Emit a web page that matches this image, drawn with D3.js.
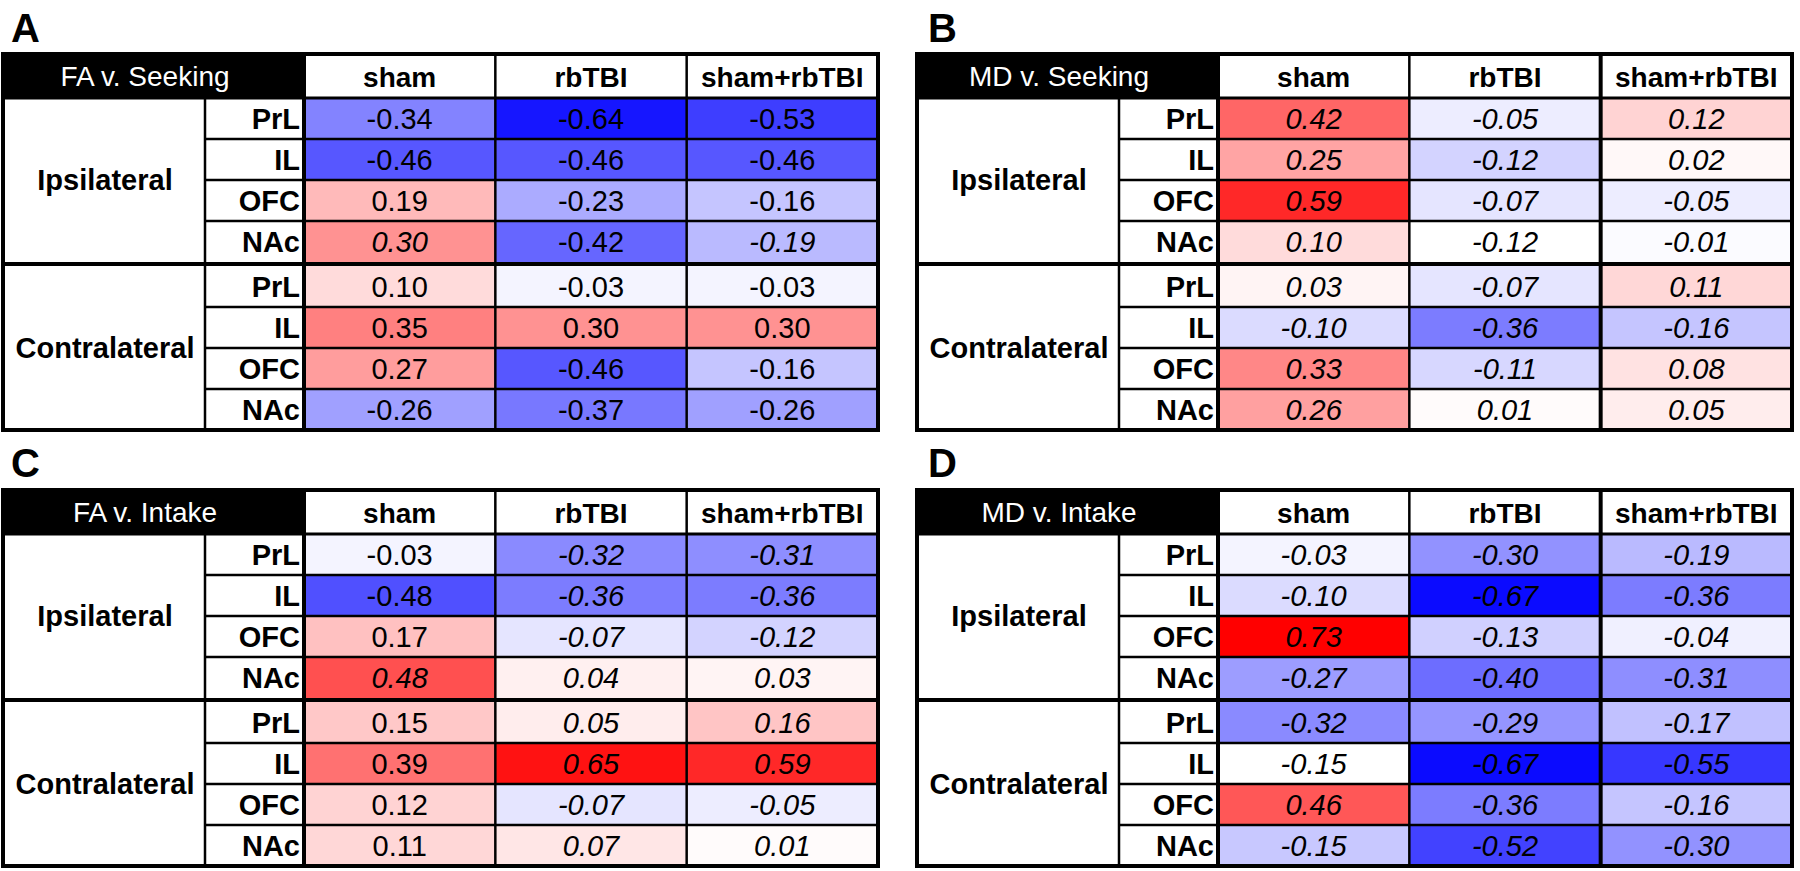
<!DOCTYPE html>
<html><head><meta charset="utf-8">
<script src="https://cdn.jsdelivr.net/npm/d3@7"></script>
<style>
body{margin:0;background:#fff}
svg{display:block}
text{font-family:"Liberation Sans",Arial,Helvetica,sans-serif}
</style>
</head><body>
<svg id="chart" width="1800" height="871"></svg>
<script>
// ---------- data ----------
const panelLetters = ["A", "B", "C", "D"];
const panelTitles = ["FA v. Seeking", "MD v. Seeking", "FA v. Intake", "MD v. Intake"];
const groups = ["sham", "rbTBI", "sham+rbTBI"];
const sides = ["Ipsilateral", "Contralateral"];
const regions = ["PrL", "IL", "OFC", "NAc"];

// each array: Ipsilateral PrL, IL, OFC, NAc, then Contralateral PrL, IL, OFC, NAc
const A_sham  = [-0.34, -0.46,  0.19,  0.30,   0.10,  0.35,  0.27, -0.26];
const A_rbTBI = [-0.64, -0.46, -0.23, -0.42,  -0.03,  0.30, -0.46, -0.37];
const A_both  = [-0.53, -0.46, -0.16, -0.19,  -0.03,  0.30, -0.16, -0.26];

const B_sham  = [ 0.42,  0.25,  0.59,  0.10,   0.03, -0.10,  0.33,  0.26];
const B_rbTBI = [-0.05, -0.12, -0.07, -0.12,  -0.07, -0.36, -0.11,  0.01];
const B_both  = [ 0.12,  0.02, -0.05, -0.01,   0.11, -0.16,  0.08,  0.05];

const C_sham  = [-0.03, -0.48,  0.17,  0.48,   0.15,  0.39,  0.12,  0.11];
const C_rbTBI = [-0.32, -0.36, -0.07,  0.04,   0.05,  0.65, -0.07,  0.07];
const C_both  = [-0.31, -0.36, -0.12,  0.03,   0.16,  0.59, -0.05,  0.01];

const D_sham  = [-0.03, -0.10,  0.73, -0.27,  -0.32, -0.15,  0.46, -0.15];
const D_rbTBI = [-0.30, -0.67, -0.13, -0.40,  -0.29, -0.67, -0.36, -0.52];
const D_both  = [-0.19, -0.36, -0.04, -0.31,  -0.17, -0.55, -0.16, -0.30];

// 1 = value printed in italics in the original
const A_italic = [[0,0,0,1,0,0,0,0],[0,0,0,0,0,0,0,0],[0,0,0,1,0,0,0,0]];
const B_italic = [[1,1,1,1,1,1,1,1],[1,1,1,1,1,1,1,1],[1,1,1,1,1,1,1,1]];
const C_italic = [[0,0,0,1,0,0,0,0],[1,1,1,1,1,1,1,1],[1,1,1,1,1,1,1,1]];
const D_italic = [[1,1,1,1,1,1,1,1],[1,1,1,1,1,1,1,1],[1,1,1,1,1,1,1,1]];

// cells left without colour fill in the original: [panel, group, row index]
const unfilledCells = [["B", "rbTBI", 3], ["D", "sham", 5]];

const panelValues = {A: [A_sham, A_rbTBI, A_both], B: [B_sham, B_rbTBI, B_both],
                     C: [C_sham, C_rbTBI, C_both], D: [D_sham, D_rbTBI, D_both]};
const panelItalic = {A: A_italic, B: B_italic, C: C_italic, D: D_italic};

// ---------- layout ----------
const layout = {
  A: {x: 3,   y: 54,  lx: 11,  ly: 42,  thickLast: false},
  B: {x: 917, y: 54,  lx: 928, ly: 42,  thickLast: true},
  C: {x: 3,   y: 490, lx: 11,  ly: 477, thickLast: false},
  D: {x: 917, y: 490, lx: 928, ly: 477, thickLast: true}
};
const W = 875, H = 376, headerH = 44, regionW = 202, labelW = 301;
const groupRanges = [[44, 208], [212, 376]];
const FS = 29, HFS = 28;

const color = d3.scaleLinear().domain([-0.7, 0, 0.7])
  .range(["#0000ff", "#ffffff", "#ff0000"]).clamp(true);
const fmt = d3.formatLocale({decimal: ".", thousands: ",", grouping: [3], currency: ["", ""], minus: "-"}).format(".2f");

const svg = d3.select("#chart");

panelLetters.forEach((p, pi) => {
  const L = layout[p];
  svg.append("text").attr("x", L.lx).attr("y", L.ly)
    .attr("font-size", 40).attr("font-weight", "bold").text(p);

  const g = svg.append("g").attr("transform", `translate(${L.x},${L.y})`);
  const xCol = d3.scaleBand().domain(groups).range([labelW, W]);
  const yRow = sides.map((s, si) => d3.scaleBand().domain(regions).range(groupRanges[si]));

  g.append("rect").attr("width", W).attr("height", H).attr("fill", "#fff");

  // cells
  const cells = [];
  groups.forEach((grp, gi) => {
    panelValues[p][gi].forEach((v, i) => {
      const si = Math.floor(i / 4), region = regions[i % 4];
      const unfilled = unfilledCells.some(u => u[0] === p && u[1] === grp && u[2] === i);
      cells.push({grp, v, si, region, italic: panelItalic[p][gi][i], unfilled});
    });
  });
  g.selectAll("rect.cell").data(cells).join("rect").attr("class", "cell")
    .attr("x", d => xCol(d.grp)).attr("y", d => yRow[d.si](d.region))
    .attr("width", xCol.bandwidth()).attr("height", d => yRow[d.si].bandwidth())
    .attr("fill", d => d.unfilled ? "#fff" : color(d.v));

  // header black box
  g.append("rect").attr("width", labelW).attr("height", headerH).attr("fill", "#000");

  const line = (x1, y1, x2, y2, w) => g.append("line")
    .attr("x1", x1).attr("y1", y1).attr("x2", x2).attr("y2", y2)
    .attr("stroke", "#000").attr("stroke-width", w);

  // thin row lines
  sides.forEach((s, si) => {
    regions.slice(1).forEach(r => {
      const y = yRow[si](r);
      line(regionW, y, W, y, 2.5);
    });
  });
  // thin vertical lines
  line(regionW, headerH, regionW, H, 2.5);
  groups.slice(1).forEach((grp, k) => {
    const x = xCol(grp);
    const thick = L.thickLast && k === 1;
    line(x, 0, x, H, thick ? 4 : 2.5);
  });
  // thick lines
  line(0, headerH, W, headerH, 3);
  line(0, (groupRanges[0][1] + groupRanges[1][0]) / 2, W, (groupRanges[0][1] + groupRanges[1][0]) / 2, 4);
  line(labelW, 0, labelW, H, 4);
  g.append("rect").attr("width", W).attr("height", H)
    .attr("fill", "none").attr("stroke", "#000").attr("stroke-width", 4);

  // texts
  g.append("text").attr("x", 142).attr("y", headerH / 2 + HFS * 0.36)
    .attr("text-anchor", "middle").attr("font-size", HFS).attr("fill", "#fff")
    .text(panelTitles[pi]);
  g.selectAll("text.hdr").data(groups).join("text").attr("class", "hdr")
    .attr("x", d => xCol(d) + xCol.bandwidth() / 2).attr("y", headerH / 2 + HFS * 0.36 + 1)
    .attr("text-anchor", "middle").attr("font-size", HFS).attr("font-weight", "bold")
    .text(d => d);
  sides.forEach((s, si) => {
    g.append("text").attr("x", regionW / 2 + 1)
      .attr("y", (groupRanges[si][0] + groupRanges[si][1]) / 2 + FS * 0.36)
      .attr("text-anchor", "middle").attr("font-size", FS).attr("font-weight", "bold").text(s);
    g.selectAll(null).data(regions).join("text")
      .attr("x", labelW - 4).attr("y", d => yRow[si](d) + yRow[si].bandwidth() / 2 + FS * 0.36)
      .attr("text-anchor", "end").attr("font-size", FS).attr("font-weight", "bold").text(d => d);
  });
  g.selectAll("text.val").data(cells).join("text").attr("class", "val")
    .attr("x", d => xCol(d.grp) + xCol.bandwidth() / 2)
    .attr("y", d => yRow[d.si](d.region) + yRow[d.si].bandwidth() / 2 + FS * 0.36)
    .attr("text-anchor", "middle").attr("font-size", FS)
    .attr("font-style", d => d.italic ? "italic" : "normal")
    .text(d => fmt(d.v));
});
</script>
</body></html>
